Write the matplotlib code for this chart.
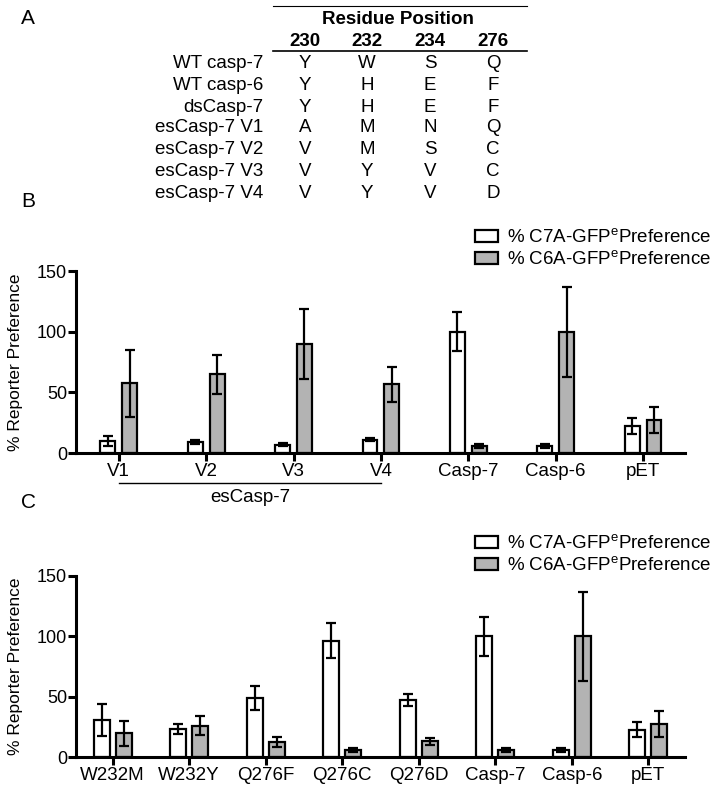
import numpy as np
import matplotlib
matplotlib.use('Agg')
import matplotlib.pyplot as plt
from matplotlib.lines import Line2D

plt.rcParams['font.family'] = ['Liberation Sans', 'DejaVu Sans']
plt.rcParams['mathtext.fontset'] = 'custom'
plt.rcParams['mathtext.rm'] = 'Liberation Sans'

# ---- Panel A: tabla de residuos ----
residue_cols = ['230', '232', '234', '276']
row_names = ['WT casp-7', 'WT casp-6', 'dsCasp-7', 'esCasp-7 V1',
             'esCasp-7 V2', 'esCasp-7 V3', 'esCasp-7 V4']
residues = [['Y', 'W', 'S', 'Q'],
            ['Y', 'H', 'E', 'F'],
            ['Y', 'H', 'E', 'F'],
            ['A', 'M', 'N', 'Q'],
            ['V', 'M', 'S', 'C'],
            ['V', 'Y', 'V', 'C'],
            ['V', 'Y', 'V', 'D']]

# ---- Panel B ----
b_labels = ['V1', 'V2', 'V3', 'V4', 'Casp-7', 'Casp-6', 'pET']
b_c7 = [10, 9.3, 7, 11, 100, 6, 22.3]
b_c7_err = [4.2, 1.5, 1.5, 1.5, 16.3, 1.5, 6.3]
b_c6 = [57.4, 64.8, 90, 56.5, 6, 100, 27]
b_c6_err = [27.4, 16.2, 28.7, 14.5, 1.5, 37, 10.6]

# ---- Panel C ----
c_labels = ['W232M', 'W232Y', 'Q276F', 'Q276C', 'Q276D', 'Casp-7', 'Casp-6', 'pET']
c_c7 = [30.9, 23.4, 49, 96.5, 47, 100, 6, 22.6]
c_c7_err = [13.2, 4.3, 9.7, 14.8, 4.9, 16.3, 1.5, 6.3]
c_c6 = [19.5, 26.1, 12.5, 6, 13, 6, 100, 27.5]
c_c6_err = [10.5, 7.6, 3.9, 1.5, 2.8, 1.5, 37, 10.6]

W, H = 714, 792
fig = plt.figure(figsize=(W / 100, H / 100), dpi=100)


def fx(px):
    return px / W


def fy(py):
    return 1 - py / H


# Panel A
fig.text(fx(28), fy(18), 'A', fontsize=15, ha='center', va='center')
fig.add_artist(Line2D([fx(273), fx(527)], [fy(6), fy(6)], color='black', lw=0.8))
fig.add_artist(Line2D([fx(273), fx(527)], [fy(51), fy(51)], color='black', lw=1.2))
fig.text(fx(398), fy(20), 'Residue Position', fontsize=13.5, fontweight='bold',
         ha='center', va='center')
col_x = [305, 367, 430, 493]
row_y = [63, 85, 107, 128, 150, 172, 193]
for cx, name in zip(col_x, residue_cols):
    fig.text(fx(cx), fy(41), name, fontsize=13.5, fontweight='bold', ha='center', va='center')
for ry, name, res in zip(row_y, row_names, residues):
    fig.text(fx(263), fy(ry), name, fontsize=13.5, ha='right', va='center')
    for cx, r in zip(col_x, res):
        fig.text(fx(cx), fy(ry), r, fontsize=13.5, ha='center', va='center')

fig.text(fx(28), fy(202), 'B', fontsize=15, ha='center', va='center')
fig.text(fx(29), fy(503), 'C', fontsize=15, ha='center', va='center')

color_gris = '#b3b3b3'


def barras(ax, labels, c7, c7e, c6, c6e, width, off, xlim):
    x = np.arange(len(labels))
    ekw = dict(elinewidth=1.6, capthick=1.6, ecolor='black')
    b1 = ax.bar(x - off, c7, width, yerr=c7e, color='white', edgecolor='black',
                linewidth=1.6, capsize=3.5, error_kw=ekw,
                label='% C7A-GFP$^{\\mathrm{e}}$Preference')
    b2 = ax.bar(x + off, c6, width, yerr=c6e, color=color_gris, edgecolor='black',
                linewidth=1.6, capsize=3.5, error_kw=ekw,
                label='% C6A-GFP$^{\\mathrm{e}}$Preference')
    ax.set_xlim(*xlim)
    ax.set_ylim(0, 150)
    ax.set_yticks([0, 50, 100, 150])
    ax.set_xticks(x)
    ax.set_xticklabels(labels)
    for s in ['top', 'right']:
        ax.spines[s].set_visible(False)
    for s in ['left', 'bottom']:
        ax.spines[s].set_linewidth(2.2)
    ax.tick_params(axis='both', width=2.2, length=5.5)
    ax.tick_params(axis='y', pad=1, labelsize=13)
    ax.tick_params(axis='x', pad=2, labelsize=13.5)
    ax.set_ylabel('% Reporter Preference', fontsize=12.5)
    ax.yaxis.set_label_coords(-53 / 609, 0.5)
    return b1, b2


axB = fig.add_axes([fx(76), fy(453), (685 - 76) / W, (453 - 271) / H])
barras(axB, b_labels, b_c7, b_c7_err, b_c6, b_c6_err, 0.17, 0.125, (-0.49, 6.48))
axB.legend(loc='upper left', bbox_to_anchor=(fx(475), fy(228)),
           bbox_transform=fig.transFigure, frameon=False, fontsize=13.5,
           borderpad=0, borderaxespad=0, handlelength=1.25, handleheight=0.65,
           handletextpad=0.45, labelspacing=0.17)

# corchete esCasp-7
axB.plot([0, 3], [-0.165, -0.165], color='black', lw=1.0,
         transform=axB.get_xaxis_transform(), clip_on=False)
axB.text(1.5, -0.242, 'esCasp-7', fontsize=13.5, ha='center', va='center',
         transform=axB.get_xaxis_transform())

axC = fig.add_axes([fx(76), fy(757), (685 - 76) / W, (757 - 576) / H])
barras(axC, c_labels, c_c7, c_c7_err, c_c6, c_c6_err, 0.21, 0.145, (-0.48, 7.48))
axC.legend(loc='upper left', bbox_to_anchor=(fx(475), fy(534)),
           bbox_transform=fig.transFigure, frameon=False, fontsize=13.5,
           borderpad=0, borderaxespad=0, handlelength=1.25, handleheight=0.65,
           handletextpad=0.45, labelspacing=0.17)

fig.savefig('out.png', dpi=100)
